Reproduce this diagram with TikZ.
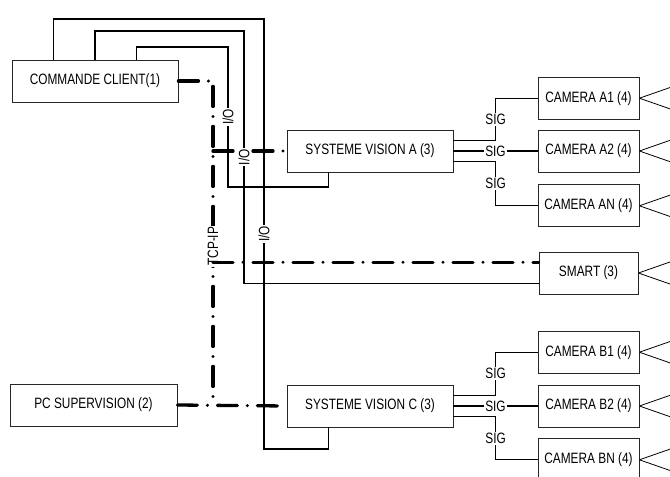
\documentclass[tikz,border=0pt]{standalone}
\usepackage{fontspec}
\setmainfont{Liberation Sans}[FakeStretch=0.79]
\usetikzlibrary{calc,positioning}

\begin{document}
\begin{tikzpicture}[
  x=1pt,y=-1pt,
  node distance=11pt,
  font=\fontsize{15}{18}\selectfont,
  box/.style={rectangle,draw=black!85,line width=0.8pt,minimum height=42pt,
    minimum width=166pt,inner sep=2pt},
  cam/.style={box,minimum width=101pt},
  io/.style={line width=1.3pt},
  sig/.style={line width=1.3pt},
  tcpip/.style={line width=3.3pt,line cap=round,
    dash pattern=on 20pt off 10pt on 0pt off 10pt},
  lab/.style={fill=white,inner sep=1pt,rotate=90},
  siglab/.style={fill=white,inner sep=1pt},
  cone/.style={line width=0.8pt}
]
  \useasboundingbox (0,0) rectangle (670,477);

  \node[box] (cmd) at (95,81) {COMMANDE CLIENT(1)};
  \node[box,minimum width=167pt] (pc) at (93.5,405) {PC SUPERVISION (2)};
  \node[box] (visa) at (370,151) {SYSTEME VISION A (3)};
  \node[box] (visc) at (370,406) {SYSTEME VISION C (3)};
  \node[box,minimum width=99pt] (smart) at (588.5,273) {SMART (3)};

  \node[cam] (a2) at (588.5,151) {CAMERA A2 (4)};
  \node[cam,above=10pt of a2] (a1) {CAMERA A1 (4)};
  \node[cam,below=12pt of a2] (an) {CAMERA AN (4)};
  \node[cam] (b2) at (588.5,406) {CAMERA B2 (4)};
  \node[cam,above=of b2] (b1) {CAMERA B1 (4)};
  \node[cam,below=of b2] (bn) {CAMERA BN (4)};

  \coordinate (bus) at (213,81);
  \coordinate (c1) at ($(cmd.north west)!.25!(cmd.north east)$);
  \coordinate (c2) at ($(cmd.north west)!.5!(cmd.north east)$);
  \coordinate (c3) at ($(cmd.north west)!.75!(cmd.north east)$);
  \coordinate (va) at ($(visa.south west)!.25!(visa.south east)$);
  \coordinate (vc) at ($(visc.south west)!.25!(visc.south east)$);
  \coordinate (sm1) at ($(smart.north west)!.25!(smart.south west)$);
  \coordinate (sm2) at ($(smart.north west)!.75!(smart.south west)$);

  \draw[tcpip] (cmd.east) -- (bus) -- node[lab,pos=.51] {TCP-IP} (bus |- pc.east);
  \draw[tcpip] (pc.east) -- (visc.west);
  \draw[tcpip] (bus |- visa.west) -- (visa.west);
  \draw[tcpip] (bus |- sm1) -- (sm1);

  \draw[io] (c1) |- (264,19) -- node[lab] {I/O} (264,449) -| (vc);
  \draw[io] (c2) |- (244,31) |- node[lab,pos=.25] {I/O} (sm2);
  \draw[io] (c3) |- (228,47) -- node[lab] {I/O} (228,187) -| (va);

  \draw[sig] (visa.east) -- node[siglab] {SIG} (a2.west);
  \draw[sig] ($(visa.north east)!.25!(visa.south east)$) -| node[siglab,pos=.75] {SIG} ($(a1.west)+(-42,0)$) -- (a1.west);
  \draw[sig] ($(visa.north east)!.75!(visa.south east)$) -| node[siglab,pos=.75] {SIG} ($(an.west)+(-42,0)$) -- (an.west);
  \draw[sig] (visc.east) -- node[siglab] {SIG} (b2.west);
  \draw[sig] ($(visc.north east)!.25!(visc.south east)$) -| node[siglab,pos=.75] {SIG} ($(b1.west)+(-42,0)$) -- (b1.west);
  \draw[sig] ($(visc.north east)!.75!(visc.south east)$) -| node[siglab,pos=.75] {SIG} ($(bn.west)+(-42,0)$) -- (bn.west);

  \draw[cone] (a1.east) -- ++(33,-11.5) (a1.east) -- ++(33,11.5);
  \draw[cone] (a2.east) -- ++(33,-11.5) (a2.east) -- ++(33,11.5);
  \draw[cone] (an.east) -- ++(33,-11.5) (an.east) -- ++(33,11.5);
  \draw[cone] (smart.east) -- ++(33,-11.5) (smart.east) -- ++(33,11.5);
  \draw[cone] (b1.east) -- ++(33,-11.5) (b1.east) -- ++(33,11.5);
  \draw[cone] (b2.east) -- ++(33,-11.5) (b2.east) -- ++(33,11.5);
  \draw[cone] (bn.east) -- ++(33,-11.5) (bn.east) -- ++(33,11.5);
\end{tikzpicture}
\end{document}
